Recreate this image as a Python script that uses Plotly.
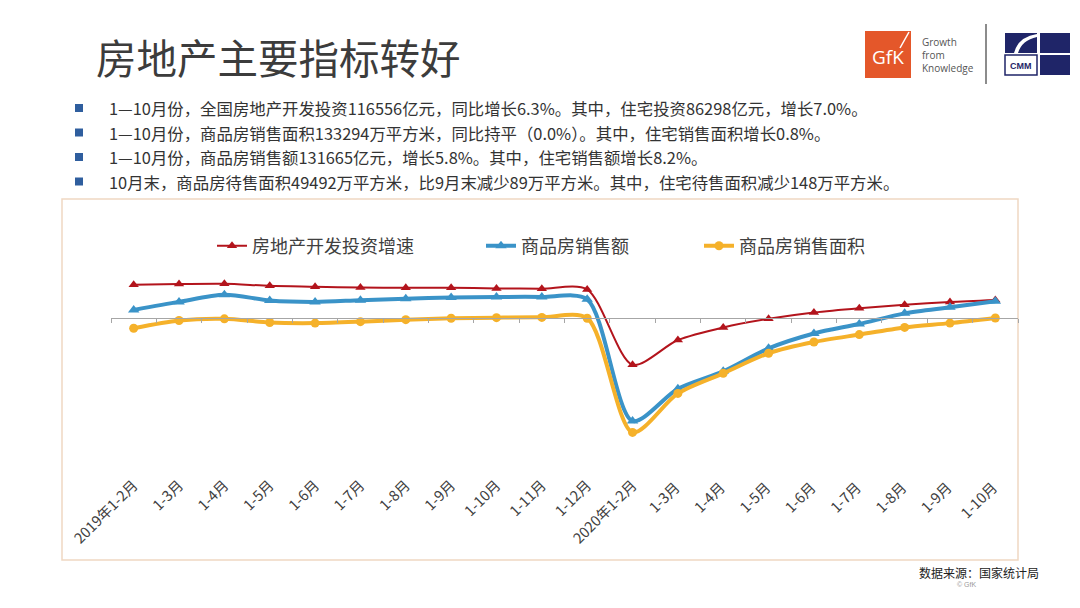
import plotly.graph_objects as go

# 数据：国家统计局 累计同比增速（%）
periods = [
    "2019年1-2月", "1-3月", "1-4月", "1-5月", "1-6月", "1-7月", "1-8月", "1-9月",
    "1-10月", "1-11月", "1-12月",
    "2020年1-2月", "1-3月 ", "1-4月 ", "1-5月 ", "1-6月 ", "1-7月 ", "1-8月 ", "1-9月 ", "1-10月 ",
]
investment = [11.6, 11.8, 11.9, 11.2, 10.9, 10.6, 10.5, 10.5, 10.3, 10.2, 9.9,
              -16.3, -7.7, -3.3, -0.3, 1.9, 3.4, 4.6, 5.6, 6.3]
sales_amount = [2.8, 5.6, 8.1, 6.1, 5.6, 6.2, 6.7, 7.1, 7.3, 7.3, 6.5,
                -35.9, -24.7, -18.6, -10.6, -5.4, -2.1, 1.6, 3.7, 5.8]
sales_area = [-3.6, -0.9, -0.3, -1.6, -1.8, -1.3, -0.6, -0.1, 0.1, 0.2, -0.1,
              -39.9, -26.3, -19.3, -12.3, -8.4, -5.8, -3.3, -1.8, 0.0]

bullets = [
    "1—10月份，全国房地产开发投资116556亿元，同比增长6.3%。其中，住宅投资86298亿元，增长7.0%。",
    "1—10月份，商品房销售面积133294万平方米，同比持平（0.0%）。其中，住宅销售面积增长0.8%。",
    "1—10月份，商品房销售额131665亿元，增长5.8%。其中，住宅销售额增长8.2%。",
    "10月末，商品房待售面积49492万平方米，比9月末减少89万平方米。其中，住宅待售面积减少148万平方米。",
]

RED = "#B3141C"
BLUE = "#3A93C8"
YELLOW = "#F5B12A"
TEXT = "#404040"
FONT = "Noto Sans CJK SC"

# plot area in page pixels
L, R, T, B = 111, 1018, 262, 464
Y_RANGE = [-50.9, 19.5]


def px(x):
    return (x - L) / (R - L)


def py(y):
    return (B - y) / (B - T)


def note(text, x, y, size, color, family=FONT, xanchor="left", **kw):
    return dict(text=text, xref="paper", yref="paper", x=px(x), y=py(y), xanchor=xanchor,
                yanchor="middle", showarrow=False, font=dict(size=size, color=color, family=family), **kw)


fig = go.Figure()

fig.add_trace(go.Scatter(
    x=periods, y=investment, name="房地产开发投资增速", legend="legend",
    mode="lines+markers", line=dict(color=RED, width=2, shape="spline", smoothing=0.8),
    marker=dict(symbol="triangle-up", size=9, color=RED)
))
fig.add_trace(go.Scatter(
    x=periods, y=sales_amount, name="商品房销售额", legend="legend2",
    mode="lines+markers", line=dict(color=BLUE, width=4, shape="spline", smoothing=0.8),
    marker=dict(symbol="triangle-up", size=10, color=BLUE)
))
fig.add_trace(go.Scatter(
    x=periods, y=sales_area, name="商品房销售面积", legend="legend3",
    mode="lines+markers", line=dict(color=YELLOW, width=4, shape="spline", smoothing=0.8),
    marker=dict(symbol="circle", size=9, color=YELLOW)
))
# carrier for the zero axis with boundary ticks
fig.add_trace(go.Scatter(
    x=periods, y=[None] * len(periods), xaxis="x2", showlegend=False,
    hoverinfo="skip", mode="lines"
))

zero_pos = (0 - Y_RANGE[0]) / (Y_RANGE[1] - Y_RANGE[0])

shapes = [
    # chart frame
    dict(type="rect", xref="paper", yref="paper", x0=px(62), x1=px(1018), y0=py(560), y1=py(199),
         line=dict(color="#F0D8C2", width=1.5), layer="below"),
    # GfK box
    dict(type="rect", xref="paper", yref="paper", x0=px(865), x1=px(911), y0=py(78), y1=py(31),
         fillcolor="#E4572A", line=dict(width=0)),
    dict(type="line", xref="paper", yref="paper", x0=px(900), x1=px(909), y0=py(48), y1=py(32),
         line=dict(color="white", width=1.5)),
    # separator
    dict(type="line", xref="paper", yref="paper", x0=px(986), x1=px(986), y0=py(84), y1=py(24),
         line=dict(color="#8C8C8C", width=2)),
    # CMM blocks
    dict(type="rect", xref="paper", yref="paper", x0=px(1005), x1=px(1037), y0=py(53), y1=py(33),
         fillcolor="#1F2568", line=dict(width=0)),
    dict(type="path", xref="paper", yref="paper",
         path=f"M {px(1014)},{py(53)} Q {px(1018)},{py(37)} {px(1037)},{py(34)} L {px(1037)},{py(37)} "
              f"Q {px(1022)},{py(40)} {px(1018)},{py(53)} Z",
         fillcolor="white", line=dict(width=0)),
    dict(type="rect", xref="paper", yref="paper", x0=px(1040), x1=px(1070), y0=py(53), y1=py(33),
         fillcolor="#1F2568", line=dict(width=0)),
    dict(type="rect", xref="paper", yref="paper", x0=px(1040), x1=px(1070), y0=py(75), y1=py(55),
         fillcolor="#1F2568", line=dict(width=0)),
    dict(type="rect", xref="paper", yref="paper", x0=px(1005), x1=px(1037), y0=py(75), y1=py(55),
         fillcolor="white", line=dict(color="#1F2568", width=1.5)),
]

annotations = [
    note("房地产主要指标转好", 94, 56, 40.5, "#3C3C3C"),
    note("GfK", 888, 57, 19, "white", family="Open Sans", xanchor="center"),
    note("Growth<br>from<br>Knowledge", 920, 55, 10, "#555555", family="Open Sans", align="left"),
    note("<b>CMM</b>", 1021, 65.5, 9, "#1F2568", family="Liberation Sans", xanchor="center"),
    note("数据来源：国家统计局", 1041, 572, 12, "#222222", xanchor="right"),
    note("© GfK", 966, 584, 7, "#9A9A9A", family="Liberation Sans", xanchor="center"),
]

for i, line in enumerate(bullets):
    yc = 108 + i * 24.5
    shapes.append(dict(type="rect", xref="paper", yref="paper", x0=px(75), x1=px(83),
                       y0=py(yc + 4), y1=py(yc - 4), fillcolor="#2F5E9E", line=dict(width=0)))
    annotations.append(note(line, 107, yc, 16.4, "#333333"))

legend_style = dict(orientation="h", xanchor="left", yanchor="middle", y=py(246),
                    bgcolor="rgba(0,0,0,0)", font=dict(size=18, color=TEXT, family=FONT))

fig.update_layout(
    width=1080, height=608,
    margin=dict(l=L, r=1080 - R, t=T, b=608 - B),
    paper_bgcolor="white", plot_bgcolor="white",
    font=dict(family=FONT, color=TEXT),
    showlegend=True,
    legend=dict(x=px(212), **legend_style),
    legend2=dict(x=px(481), **legend_style),
    legend3=dict(x=px(699), **legend_style),
    xaxis=dict(type="category", range=[-0.5, 19.5], showline=False, showgrid=False,
               zeroline=False, ticks="", tickangle=-45, ticklabelstandoff=9,
               tickfont=dict(size=14.5, color=TEXT, family=FONT)),
    xaxis2=dict(type="category", overlaying="x", anchor="free", position=zero_pos,
                range=[-0.5, 19.5], showline=True, linecolor="#A6A6A6", linewidth=1,
                ticks="outside", ticklen=4, tickcolor="#A6A6A6", tickson="boundaries",
                showticklabels=False, showgrid=False, zeroline=False),
    yaxis=dict(range=Y_RANGE, showgrid=False, zeroline=False, showticklabels=False,
               showline=False),
    shapes=shapes,
    annotations=annotations,
)

fig.write_html("out.html", config={"displayModeBar": False},
               post_script="document.body.style.margin='0';")
